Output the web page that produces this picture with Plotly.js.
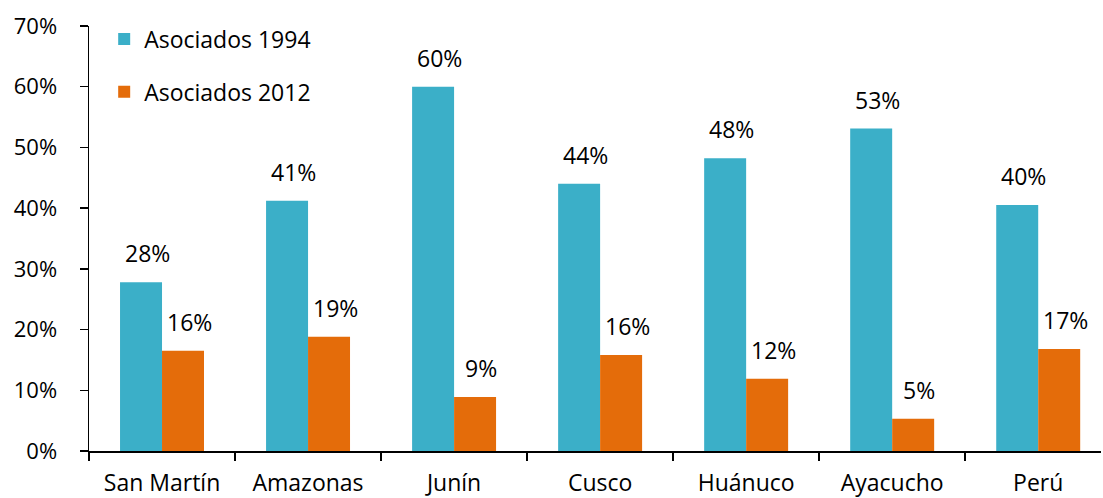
<!DOCTYPE html>
<html><head><meta charset="utf-8">
<script src="https://cdn.plot.ly/plotly-3.0.1.min.js"></script>
<style>html,body{margin:0;padding:0;background:#fff}#chart{width:1103px;height:498px}</style>
</head><body><div id="chart"></div>
<script>
const categories = ["San Martín","Amazonas","Junín","Cusco","Huánuco","Ayacucho","Perú"];
const asociados1994 = [0.278, 0.412, 0.600, 0.440, 0.482, 0.531, 0.405];
const asociados2012 = [0.165, 0.188, 0.089, 0.158, 0.119, 0.053, 0.168];
const labels1994 = ["28%","41%","60%","44%","48%","53%","40%"];
const labels2012 = ["16%","19%","9%","16%","12%","5%","17%"];
const seriesNames = ["Asociados 1994","Asociados 2012"];
const yTicks = [0,0.1,0.2,0.3,0.4,0.5,0.6,0.7];
const yTickText = ["0%","10%","20%","30%","40%","50%","60%","70%"];

const font = "'Open Sans', sans-serif";
const fs = 23;
const c1 = "#3BAFC8", c2 = "#E46C0A";
const data = [
  {type:"bar", x:categories, y:asociados1994, name:seriesNames[0], marker:{color:c1}, legendgroup:"a", hoverinfo:"none"},
  {type:"bar", x:categories, y:asociados2012, name:seriesNames[1], marker:{color:c2}, legendgroup:"b", hoverinfo:"none"}
];
const annotations = [];
categories.forEach((c,i)=>{
  annotations.push({x:c, y:asociados1994[i], text:labels1994[i], showarrow:false, xref:"x", yref:"y", yanchor:"bottom", xshift:-15, yshift:11, font:{family:font,size:fs,color:"#000"}});
  annotations.push({x:c, y:asociados2012[i], text:labels2012[i], showarrow:false, xref:"x", yref:"y", yanchor:"bottom", xshift:27, yshift:11, font:{family:font,size:fs,color:"#000"}});
});
const layout = {
  width:1103, height:498,
  margin:{l:89, r:2, t:26, b:47, pad:0},
  paper_bgcolor:"#fff", plot_bgcolor:"#fff",
  font:{family:font, size:fs, color:"#000"},
  barmode:"group", bargap:0.425, bargroupgap:0,
  showlegend:true,
  legend:{x:0.015, y:1.02, xanchor:"left", yanchor:"top", traceorder:"grouped", tracegroupgap:20, itemwidth:30, font:{family:font,size:fs,color:"#000"}, bgcolor:"rgba(0,0,0,0)"},
  xaxis:{type:"category", range:[-0.5,6.43], showline:true, linecolor:"#000", linewidth:1.5, ticks:"outside", tickson:"boundaries", ticklen:8, tickwidth:1.5, tickcolor:"#000", ticklabelstandoff:11, showgrid:false, zeroline:false, tickfont:{family:font,size:fs,color:"#000"}},
  yaxis:{range:[0,0.7], tickvals:yTicks, ticktext:yTickText, showline:true, linecolor:"#000", linewidth:1.5, ticks:"outside", ticklen:8, tickwidth:1.5, tickcolor:"#000", ticklabelstandoff:18, showgrid:false, zeroline:false, tickfont:{family:font,size:22,color:"#000"}},
  annotations:annotations
};
Plotly.newPlot("chart", data, layout, {displayModeBar:false, staticPlot:true});
</script></body></html>
